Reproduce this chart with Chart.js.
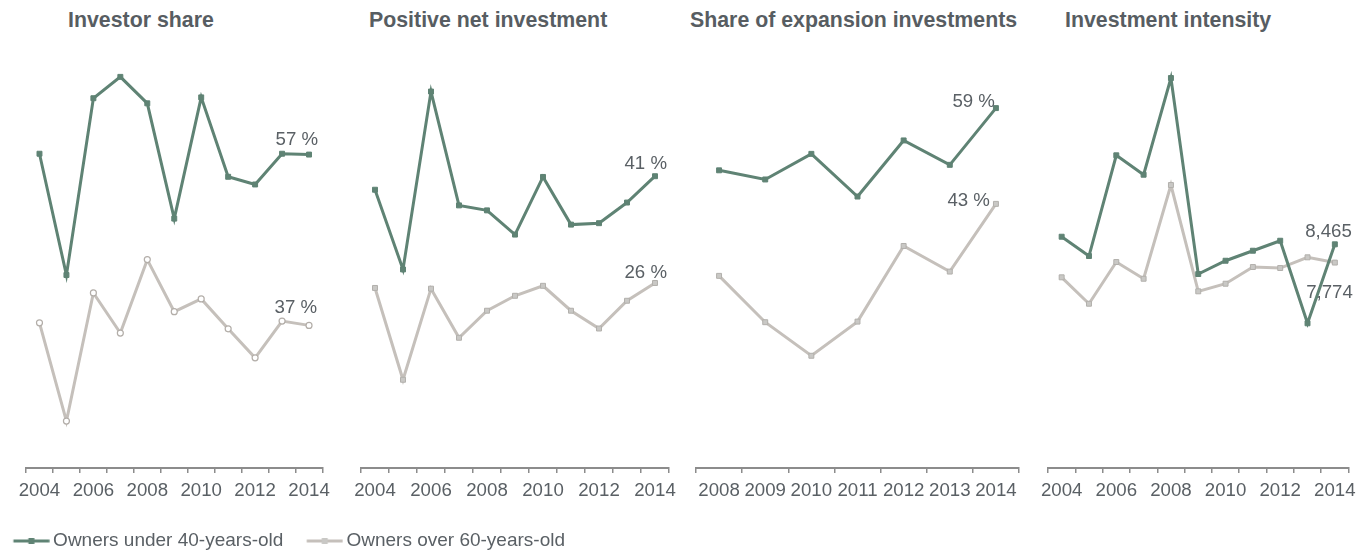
<!DOCTYPE html>
<html lang="en">
  <head>
    <meta charset="UTF-8" />
    <title>Investment by owner age</title>
    <script src="https://cdn.jsdelivr.net/npm/chart.js@4"></script>
    <style>
      html, body { margin: 0; overflow: hidden; background: #fff; }
      body { position: relative; width: 1368px; height: 554px; font-family: 'Liberation Sans', Arial, sans-serif; }
      .panel { position: absolute; top: 0; }
      .title { position: absolute; top: 9.7px; font-size: 21.33px; line-height: 1; font-weight: bold; color: #575d62; white-space: nowrap; }
    </style>
  </head>
  <body>
    <div class="title" style="left: 68px">Investor share</div>
    <div class="title" style="left: 369px">Positive net investment</div>
    <div class="title" style="left: 690px">Share of expansion investments</div>
    <div class="title" style="left: 1065px">Investment intensity</div>

    <canvas id="investorShare" class="panel" width="620" height="561" style="left: -10px"></canvas>
    <canvas id="netInvestment" class="panel" width="342" height="554" style="left: 342px"></canvas>
    <canvas id="expansion" class="panel" width="342" height="554" style="left: 684px"></canvas>
    <canvas id="intensity" class="panel" width="342" height="554" style="left: 1026px"></canvas>

    <script>
      const years = ["2004", "2005", "2006", "2007", "2008", "2009", "2010", "2011", "2012", "2013", "2014"];
      const expansionYears = ["2008", "2009", "2010", "2011", "2012", "2013", "2014"];
      const seriesNames = ["Owners under 40-years-old", "Owners over 60-years-old"];

      // values (percent, last panel in euros)
      const investorUnder40 = [56.8, 42.6, 63.3, 65.8, 62.7, 49.2, 63.4, 54.1, 53.2, 56.8, 56.7];
      const investorOver60 = [37.0, 25.5, 40.5, 35.8, 44.4, 38.3, 39.8, 36.3, 32.9, 37.2, 36.7];
      const netUnder40 = [39.1, 27.9, 52.9, 36.9, 36.2, 32.8, 40.9, 34.2, 34.4, 37.3, 41.0];
      const netOver60 = [25.3, 12.4, 25.2, 18.3, 22.1, 24.2, 25.6, 22.1, 19.6, 23.5, 26.0];
      const expansionUnder40 = [48.8, 47.3, 51.5, 44.5, 53.7, 49.7, 59.0];
      const expansionOver60 = [31.5, 23.9, 18.4, 24.0, 36.4, 32.2, 43.3];
      const intensityUnder40 = [8753, 8022, 11833, 11099, 14758, 7341, 7844, 8223, 8601, 5476, 8465];
      const intensityOver60 = [7216, 6217, 7795, 7163, 10709, 6686, 6974, 7606, 7568, 7973, 7774];

      const GREEN = "#5f8374";
      const GRAY = "#c5c0bb";
      const TEXT = "#5a6065";
      const AXIS = "#8c8c8c";
      const FONT = "'Liberation Sans', Arial, sans-serif";

      Chart.defaults.font.family = FONT;
      Chart.defaults.color = TEXT;

      // line + square marker used as legend symbol
      function legendSwatch(color, fill) {
        const c = document.createElement("canvas");
        c.width = 56;
        c.height = 8;
        const g = c.getContext("2d");
        g.strokeStyle = color;
        g.lineWidth = 3;
        g.beginPath();
        g.moveTo(19.6, 4);
        g.lineTo(55.6, 4);
        g.stroke();
        g.fillStyle = fill;
        g.fillRect(34.6, 1, 6, 6);
        return c;
      }
      const swatches = [legendSwatch(GREEN, GREEN), legendSwatch(GRAY, "#c9c8c5")];

      const pct = (v) => Math.round(v) + " %";
      const num = (v) => Math.round(v).toLocaleString("en-US");

      function endLabels(offsets, format) {
        return {
          id: "endLabels",
          afterDatasetsDraw(chart) {
            const ctx = chart.ctx;
            ctx.save();
            ctx.font = "18.67px " + FONT;
            ctx.fillStyle = TEXT;
            ctx.textAlign = "right";
            ctx.textBaseline = "alphabetic";
            chart.data.datasets.forEach((ds, i) => {
              const pts = chart.getDatasetMeta(i).data;
              const p = pts[pts.length - 1];
              ctx.fillText(format(ds.data[ds.data.length - 1]), p.x + offsets[i][0], p.y + offsets[i][1]);
            });
            ctx.restore();
          },
        };
      }

      function makePanel(id, cfg) {
        const grayPoint = cfg.circles
          ? { pointStyle: "circle", pointRadius: 3, pointBackgroundColor: "#fff", pointBorderColor: "#b3aea9", pointBorderWidth: 1.2 }
          : { pointStyle: "rect", pointRadius: 3.5, pointBackgroundColor: "#c9c8c5", pointBorderColor: "#b2b0ac", pointBorderWidth: 1 };

        const scales = {
          x: {
            offset: true,
            grid: {
              offset: true,
              drawOnChartArea: false,
              drawTicks: true,
              tickLength: 5,
              color: AXIS,
              lineWidth: 1.5,
            },
            border: { display: true, color: AXIS, width: 2 },
            ticks: {
              autoSkip: false,
              maxRotation: 0,
              padding: 7,
              color: TEXT,
              font: { size: 18.67 },
              callback: function (v, i) {
                return cfg.everyOther && i % 2 ? "" : this.getLabelForValue(v);
              },
            },
            afterFit(s) {
              s.height = 53.5;
            },
          },
          y: {
            display: cfg.yWidth > 0,
            min: cfg.min,
            max: cfg.max,
            ticks: { display: false },
            grid: { display: false },
            border: { display: false },
            afterFit(s) {
              s.width = cfg.yWidth;
            },
          },
        };
        // empty spacer on the right so the legend may run wider than the plot
        if (cfg.rightSpace) {
          scales.spacer = {
            type: "linear",
            position: "right",
            ticks: { display: false },
            grid: { display: false },
            border: { display: false },
            afterFit(s) {
              s.width = cfg.rightSpace;
            },
          };
        }

        return new Chart(document.getElementById(id), {
          type: "line",
          data: {
            labels: cfg.labels,
            datasets: [
              {
                label: seriesNames[0],
                data: cfg.under,
                borderColor: GREEN,
                backgroundColor: GREEN,
                borderWidth: 3,
                tension: 0,
                pointStyle: "rect",
                pointRadius: 3.5,
                pointBackgroundColor: GREEN,
                pointBorderColor: GREEN,
                pointBorderWidth: 1,
              },
              Object.assign(
                {
                  label: seriesNames[1],
                  data: cfg.over,
                  borderColor: GRAY,
                  backgroundColor: GRAY,
                  borderWidth: 3,
                  tension: 0,
                },
                grayPoint
              ),
            ],
          },
          options: {
            responsive: false,
            animation: false,
            layout: { padding: cfg.padding },
            plugins: {
              tooltip: { enabled: false },
              legend: cfg.legend
                ? {
                    position: "bottom",
                    align: "start",
                    labels: {
                      usePointStyle: true,
                      pointStyleWidth: 43.6,
                      boxHeight: 8,
                      padding: 10,
                      color: TEXT,
                      font: { size: 19 },
                      generateLabels(chart) {
                        const items = Chart.defaults.plugins.legend.labels.generateLabels(chart);
                        items.forEach((it) => (it.pointStyle = swatches[it.datasetIndex]));
                        return items;
                      },
                    },
                  }
                : { display: false },
            },
            scales: scales,
          },
          plugins: [endLabels(cfg.offsets, cfg.format)],
        });
      }

      makePanel("investorShare", {
        labels: years, under: investorUnder40, over: investorOver60,
        min: 20, max: 70, everyOther: true, circles: true, legend: true, yWidth: 36, rightSpace: 287.5,
        padding: { left: 0, right: 0, top: 41, bottom: 0.5 },
        offsets: [[9, -10], [8, -12]], format: pct,
      });
      makePanel("netInvestment", {
        labels: years, under: netUnder40, over: netOver60,
        min: 0, max: 60, everyOther: true, yWidth: 0,
        padding: { left: 19, right: 15, top: 41, bottom: 32.5 },
        offsets: [[12, -7], [12, -5]], format: pct,
      });
      makePanel("expansion", {
        labels: expansionYears, under: expansionUnder40, over: expansionOver60,
        min: 0, max: 70, everyOther: false, yWidth: 0,
        padding: { left: 12, right: 7, top: 41, bottom: 32.5 },
        offsets: [[-1, -1], [-6, 2]], format: pct,
      });
      makePanel("intensity", {
        labels: years, under: intensityUnder40, over: intensityOver60,
        min: 0, max: 16160, everyOther: true, yWidth: 0,
        padding: { left: 22, right: 19.5, top: 41, bottom: 32.5 },
        offsets: [[17, -7], [18, 35]], format: num,
      });
    </script>
  </body>
</html>
